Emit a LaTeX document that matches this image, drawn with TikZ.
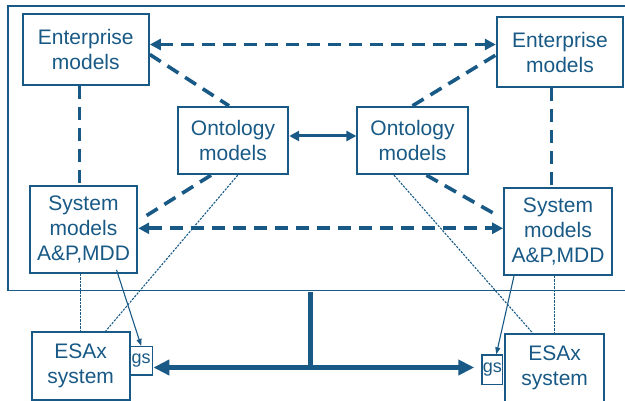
\documentclass[tikz,border=0pt]{standalone}
\usepackage{fontspec}
\setmainfont{Liberation Sans}
\usetikzlibrary{arrows.meta,calc}
\definecolor{db}{RGB}{24,89,133}
\tikzset{
  box/.style={draw=db, line width=1.8pt, inner sep=0pt, align=center, text=db,
    font=\fontsize{21}{25}\selectfont},
  dsh/.style={draw=db, line width=3.6pt, dash pattern=on 13pt off 8pt},
  dot/.style={draw=db, line width=1.1pt, dash pattern=on 2.2pt off 1.3pt},
  thin/.style={draw=db, line width=1.1pt, -{Triangle[length=7pt,width=5pt]}},
  heavy/.style={draw=db, line width=5pt},
}
\begin{document}
\begin{tikzpicture}[x=1pt,y=-1pt]
\useasboundingbox (0,0) rectangle (625,401);
% outer frame (open on the right)
\draw[db, line width=1.5pt] (630,6) -- (8,6) -- (8,290.5) -- (630,290.5);

\node[box, minimum width=126.3pt, minimum height=70.4pt] (entL) at (85.8,49.5) {Enterprise\\models};
\node[box, minimum width=110.6pt, minimum height=67.6pt] (ontL) at (233,140.5) {Ontology\\models};
\node[box, minimum width=107.6pt, minimum height=87.3pt] (sysL) at (83.5,229.3) {System\\models\\A\&P,MDD};
\node[box, minimum width=98pt, minimum height=68pt] (esaL) at (80.7,366) {ESAx\\system};
\node[box, line width=1.4pt, minimum width=23pt, minimum height=28.3pt, font=\fontsize{18}{20}\selectfont] (gsL) at (141.2,360.8) {gs};

\node[box, minimum width=126.6pt, minimum height=70.6pt] (entR) at (560,52) {Enterprise\\models};
\node[box, minimum width=110.4pt, minimum height=67.6pt] (ontR) at (412.5,140.5) {Ontology\\models};
\node[box, minimum width=108pt, minimum height=86.7pt] (sysR) at (558,231.7) {System\\models\\A\&P,MDD};
\node[box, minimum width=98.7pt, minimum height=67.5pt] (esaR) at (554.7,367.7) {ESAx\\system};
\node[box, line width=1.4pt, minimum width=20.7pt, minimum height=29.3pt, font=\fontsize{18}{20}\selectfont] (gsR) at (492.3,369.7) {gs};

% dashed connectors
\draw[dsh, {Triangle[length=11pt,width=11pt]}-{Triangle[length=11pt,width=11pt]}]
  ([yshift=5pt]entL.east) -- ([yshift=5pt]entL.east -| entR.west);
\draw[dsh] ([yshift=-5pt]entL.east) -- ([xshift=-4pt]ontL.north);
\draw[dsh] (ontR.north) -- ([yshift=-3pt]entR.west);
\draw[dsh] ([xshift=-6.5pt]entL.south) -- ([xshift=-6.5pt]entL.south |- sysL.north);
\draw[dsh] ([xshift=-8.7pt]entR.south) -- ([xshift=-8.7pt]entR.south |- sysR.north);
\draw[dsh] ([xshift=-22pt]ontL.south) -- ($(sysL.east)+(4,-11)$);
\draw[dsh] ([xshift=14pt]ontR.south) -- ($(sysR.west)+(-7,-17)$);
\draw[dsh, {Triangle[length=11pt,width=11pt]}-{Triangle[length=11pt,width=11pt]}]
  ([yshift=1pt]sysL.east) -- ([yshift=1pt]sysL.east -| sysR.west);

% ontology link
\draw[db, line width=3pt, {Triangle[length=10pt,width=10pt]}-{Triangle[length=10pt,width=10pt]}]
  ([yshift=4.5pt]ontL.east) -- ([yshift=4.5pt]ontL.east -| ontR.west);

% dotted links
\draw[dot] ([xshift=4.7pt]ontL.south) -- ([xshift=25pt]esaL.north);
\draw[dot] ([xshift=-18.5pt]ontR.south) -- ([xshift=-22pt]esaR.north);
\draw[dot] ([xshift=-3pt]sysL.south) -- ([xshift=-3pt]sysL.south |- esaL.north);
\draw[dot] ([xshift=-3.7pt]sysR.south) -- ([xshift=-3.7pt]sysR.south |- esaR.north);

% thin arrows to gs
\draw[thin] ($(sysL.south)+(33,-4)$) -- (gsL.north);
\draw[thin] ([xshift=-44pt]sysR.south) -- ([xshift=4pt]gsR.north);

% heavy bus
\coordinate (busTop) at (310.8,292.5);
\coordinate (busMid) at (310.8,367.5);
\draw[heavy] (busTop) -- (busMid);
\draw[heavy, {Triangle[length=16pt,width=15pt]}-{Triangle[length=16pt,width=15pt]}, shorten >=7pt]
  (gsL.east |- busMid) -- (gsR.west |- busMid);
\end{tikzpicture}
\end{document}
